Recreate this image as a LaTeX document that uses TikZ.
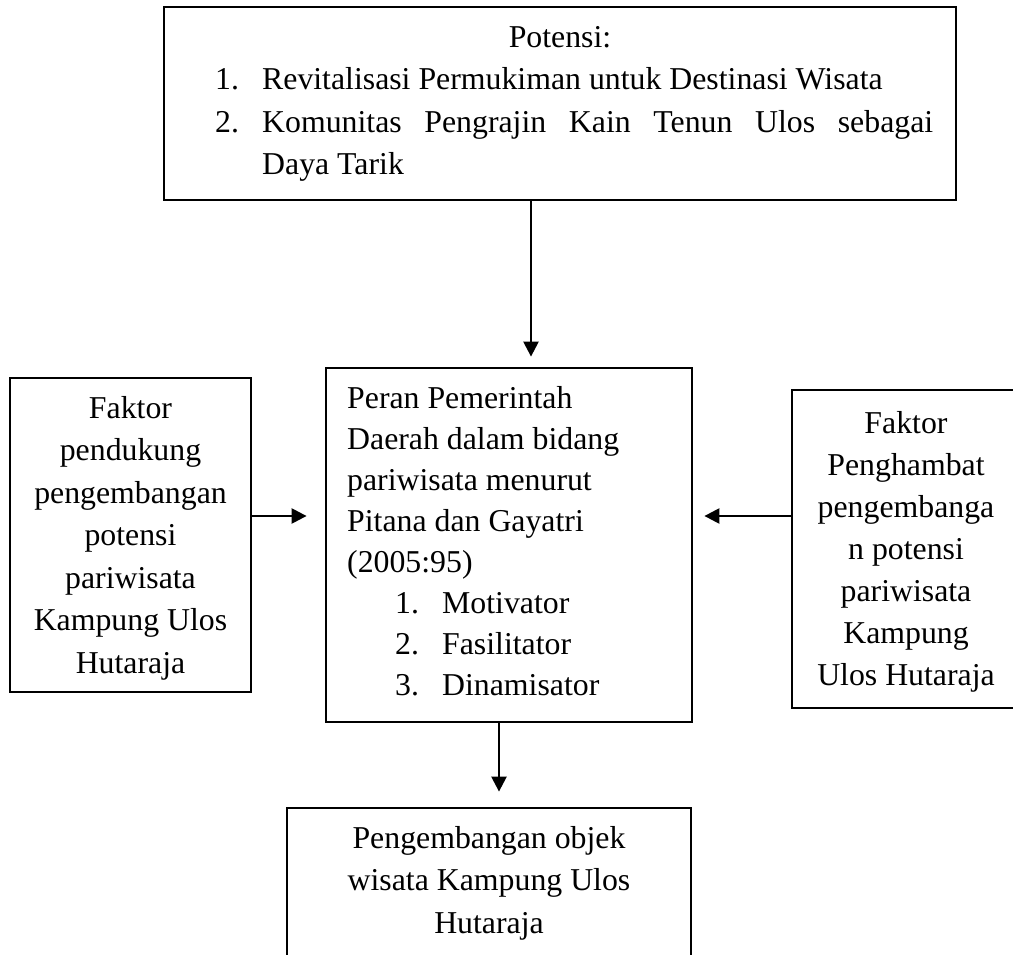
\documentclass[tikz,border=0pt]{standalone}
\usepackage{fontspec}
\setmainfont{Liberation Serif}
\usetikzlibrary{arrows.meta,calc}
\newcommand\txtlines[3]{{\fontsize{31.8}{#1}\selectfont\begin{tabular}[t]{@{}#2@{}}#3\end{tabular}}}
\newcommand\itm[1]{\makebox[47pt][l]{#1}}
\tikzset{
  box/.style={draw, rectangle, line width=2.8pt, inner sep=0pt},
  txt/.style={inner sep=0pt},
  arr/.style={line width=2.4pt, -{Triangle[length=15pt,width=15pt]}}
}
\begin{document}
\begin{tikzpicture}[x=1pt,y=-1pt,font=\fontsize{31.8}{42.5}\selectfont]
\path[use as bounding box] (0,0) rectangle (1013,955);
\clip (0,0) rectangle (1013,955);
% boxes
\node[box, minimum width=792, minimum height=193] (top) at (560,103.5) {};
\node[box, minimum width=366, minimum height=354] (mid) at (509,545) {};
\node[box, minimum width=241, minimum height=314] (left) at (130.5,535) {};
\node[box, minimum width=228, minimum height=318] (right) at (906,549) {};
\node[box, minimum width=404, minimum height=170] (bot) at (489,893) {};
% texts
\node[txt, anchor=base] (potensi) at (560,48) {Potensi:};
\node[txt, anchor=base west] (toplist) at (215,90) {\txtlines{42.5}{l}{\itm{1.}Revitalisasi Permukiman untuk Destinasi Wisata\\
\itm{2.}\makebox[671pt][s]{Komunitas Pengrajin Kain Tenun Ulos sebagai}\\
\hspace*{47pt}Daya Tarik}};
\node[txt, anchor=base west] (midtext) at (347,408) {\txtlines{41}{l}{Peran Pemerintah\\
Daerah dalam bidang\\
pariwisata menurut\\
Pitana dan Gayatri\\
(2005:95)\\
\hspace*{48pt}\itm{1.}Motivator\\
\hspace*{48pt}\itm{2.}Fasilitator\\
\hspace*{48pt}\itm{3.}Dinamisator}};
\node[txt, anchor=base] (lefttext) at (130.5,418) {\txtlines{42.5}{c}{Faktor\\
pendukung\\
pengembangan\\
potensi\\
pariwisata\\
Kampung Ulos\\
Hutaraja}};
\node[txt, anchor=base] (righttext) at (906,433) {\txtlines{42}{c}{Faktor\\
Penghambat\\
pengembanga\\
n potensi\\
pariwisata\\
Kampung\\
Ulos Hutaraja}};
\node[txt, anchor=base] (bottext) at (489,848) {\txtlines{42.5}{c}{Pengembangan objek\\
wisata Kampung Ulos\\
Hutaraja}};
% connectors
\coordinate (ax1) at (531,0);
\coordinate (ax2) at (499,0);
\coordinate (ay) at (0,516);
\draw[arr, shorten >=10pt] (top.south -| ax1) -- (mid.north -| ax1);
\draw[arr, shorten >=18pt] (left.east |- ay) -- (mid.west |- ay);
\draw[arr, shorten >=11pt] (right.west |- ay) -- (mid.east |- ay);
\draw[arr, shorten >=15pt] (mid.south -| ax2) -- (bot.north -| ax2);
\end{tikzpicture}
\end{document}
